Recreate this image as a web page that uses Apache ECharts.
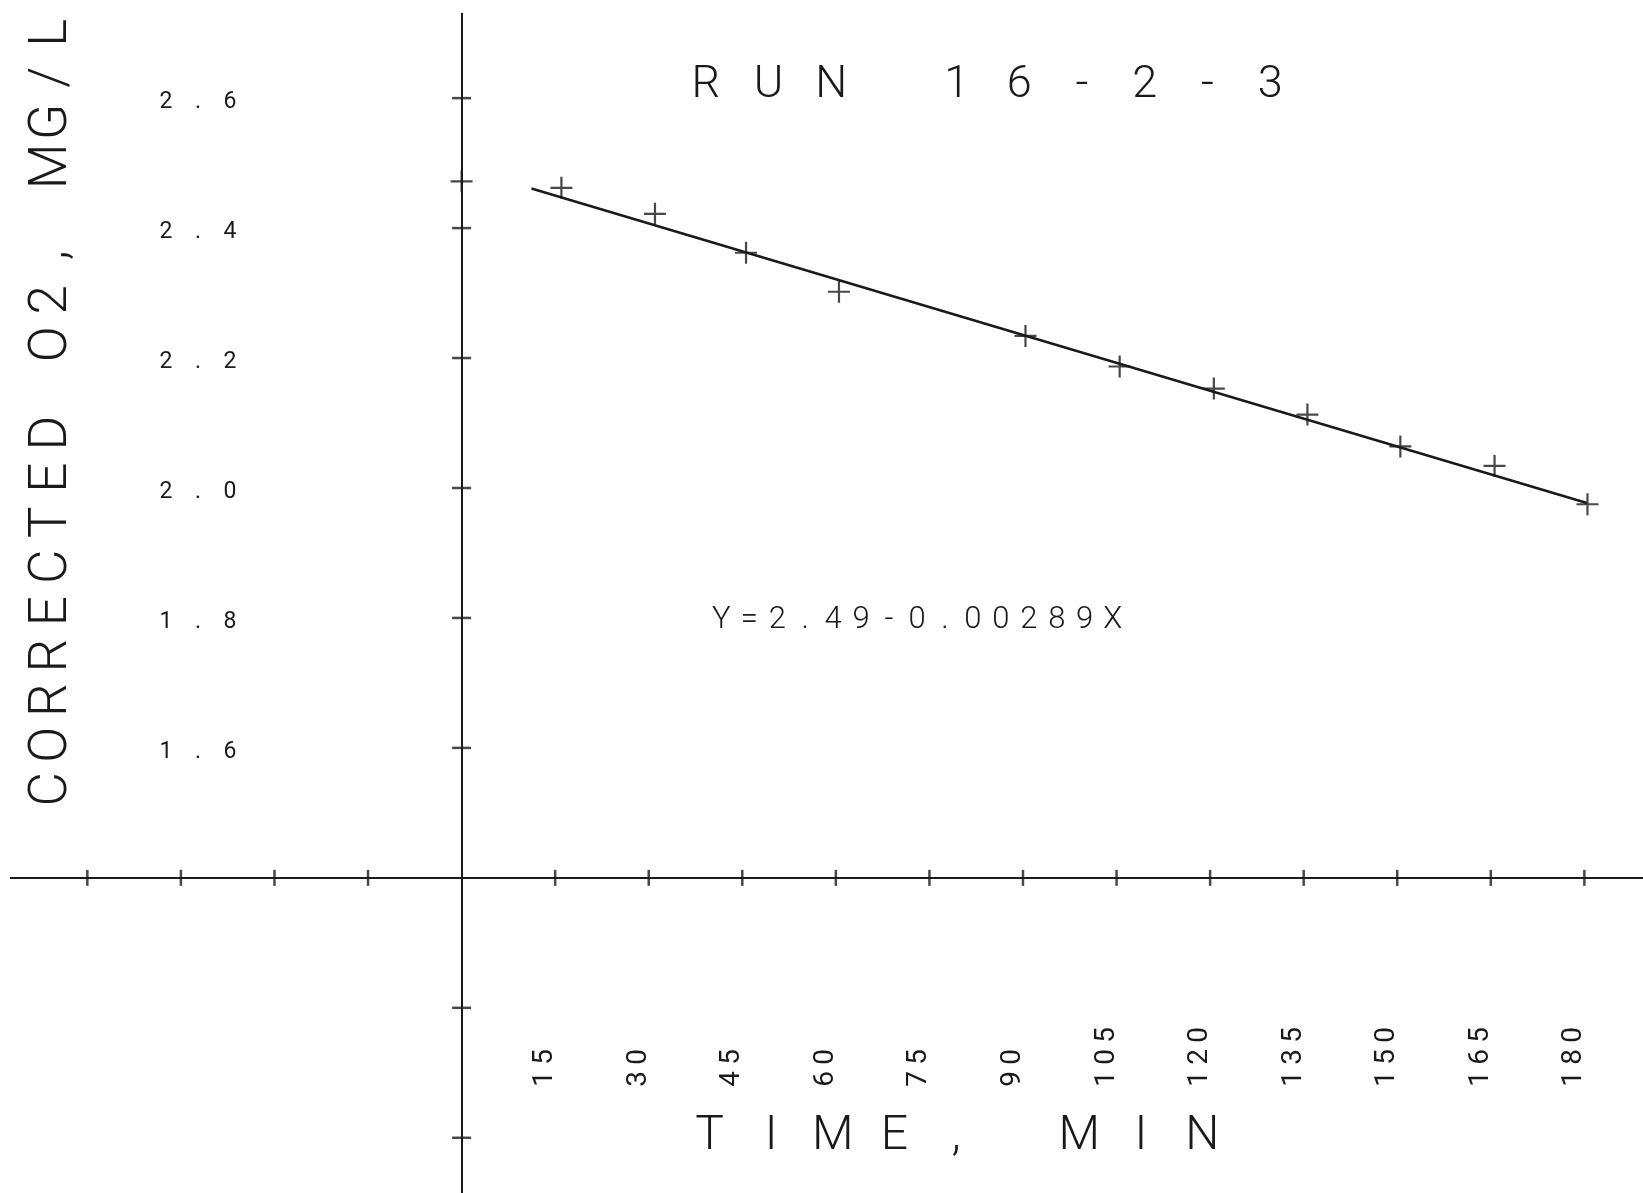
<!DOCTYPE html>
<html>
<head>
<meta charset="utf-8">
<script src="https://cdn.jsdelivr.net/npm/echarts@6/dist/echarts.min.js"></script>
<style>
html,body{margin:0;padding:0;background:#ffffff;}
#chart{width:1643px;height:1193px;}
</style>
</head>
<body>
<div id="chart"></div>
<script>
// ---- data ----
const timeMin = [0, 16, 31, 45.6, 60.5, 90.4, 105.5, 120.6, 135.6, 150.5, 165.6, 180.5];
const o2Corrected = [2.472, 2.462, 2.422, 2.362, 2.302, 2.234, 2.187, 2.153, 2.113, 2.064, 2.034, 1.975];
const fitTime = [11.2, 180.4];
const fitO2 = [2.461, 1.977];
const xTickValues = [-60, -45, -30, -15, 15, 30, 45, 60, 75, 90, 105, 120, 135, 150, 165, 180];
const xLabelValues = [15, 30, 45, 60, 75, 90, 105, 120, 135, 150, 165, 180];
const yTickValues = [1.0, 1.2, 1.6, 1.8, 2.0, 2.2, 2.4, 2.6];
const yLabelValues = [1.6, 1.8, 2.0, 2.2, 2.4, 2.6];
const xRange = [-72.4, 189.4];
const yRange = [0.915, 2.731];
const axisCrossX = 0;
const axisCrossY = 1.4;
const titleText = 'RUN 16-2-3';
const xAxisTitle = 'TIME, MIN';
const yAxisTitle = 'CORRECTED O2, MG/L';
const equationText = 'Y=2.49-0.00289X';

// ---- styling ----
const INK = '#1a1a1a';
const FONT = 'Roboto, "DejaVu Sans", sans-serif';
const PLUS = 'path://M9,0H11V9H20V11H11V20H9V11H0V9H9Z';

function spaced(str, key) {
  return str.split('').map(c => '{' + key + '|' + c + '}').join('');
}
function richChar(pitch, size, weight) {
  return {width: pitch, align: 'center', fontSize: size, fontFamily: FONT, fontWeight: weight || 300, color: INK, fill: INK};
}
function textEl(txt, key, pitch, size, x, y, rot) {
  const r = {}; r[key] = richChar(pitch, size);
  return {
    type: 'text', x: x, y: y, rotation: rot || 0, silent: true,
    style: {
      text: spaced(txt, key), rich: r,
      align: 'center', verticalAlign: 'middle',
      textAlign: 'center', textVerticalAlign: 'middle',
      fill: INK, fontSize: size, fontFamily: FONT, fontWeight: 300
    }
  };
}

const chart = echarts.init(document.getElementById('chart'), null, {renderer: 'canvas'});
chart.setOption({
  backgroundColor: '#ffffff',
  animation: false,
  grid: {left: 10, right: 0, top: 13, bottom: 0, containLabel: false},
  xAxis: {
    type: 'value', min: xRange[0], max: xRange[1],
    axisLine: {show: false}, axisTick: {show: false}, splitLine: {show: false},
    axisLabel: {
      inside: true, rotate: 90, margin: 103,
      customValues: xLabelValues,
      formatter: v => spaced(String(v), 'x'),
      padding: [0, 0, 20, 0],
      rich: {x: richChar(22, 28, 400)}
    }
  },
  yAxis: {
    type: 'value', min: yRange[0], max: yRange[1],
    axisLine: {show: false}, axisTick: {show: false}, splitLine: {show: false},
    axisLabel: {
      inside: true, margin: 140,
      customValues: yLabelValues,
      formatter: v => spaced(v.toFixed(1), 'y'),
      padding: [8, 0, 0, 0],
      rich: {y: richChar(32, 23, 400)}
    }
  },
  series: [
    {
      name: 'yTicks', type: 'scatter', silent: true,
      symbol: 'rect', symbolSize: [19, 2.5],
      itemStyle: {color: INK},
      data: yTickValues.map(v => [axisCrossX, v]),
      markLine: {
        silent: true, symbol: ['none', 'none'],
        label: {show: false},
        lineStyle: {color: INK, width: 2, type: 'solid'},
        data: [{xAxis: axisCrossX}, {yAxis: axisCrossY}]
      }
    },
    {
      name: 'xTicks', type: 'scatter', silent: true,
      symbol: 'rect', symbolSize: [2.5, 16],
      itemStyle: {color: INK},
      data: xTickValues.map(v => [v, axisCrossY])
    },
    {
      name: 'fit', type: 'line', silent: true,
      symbol: 'none',
      lineStyle: {color: INK, width: 2.5},
      data: fitTime.map((t, i) => [t, fitO2[i]])
    },
    {
      name: 'O2', type: 'scatter', silent: true,
      symbol: PLUS, symbolSize: 22,
      itemStyle: {color: INK},
      data: timeMin.map((t, i) => [t, o2Corrected[i]])
    }
  ],
  graphic: [
    textEl(titleText, 't', 62.7, 45, 988, 86),
    textEl(xAxisTitle, 'n', 61.6, 48, 956, 1137),
    textEl(equationText, 'e', 27.95, 31, 917, 620),
    textEl(yAxisTitle, 'a', 44.5, 53, 53, 411, Math.PI / 2)
  ]
});
</script>
</body>
</html>
